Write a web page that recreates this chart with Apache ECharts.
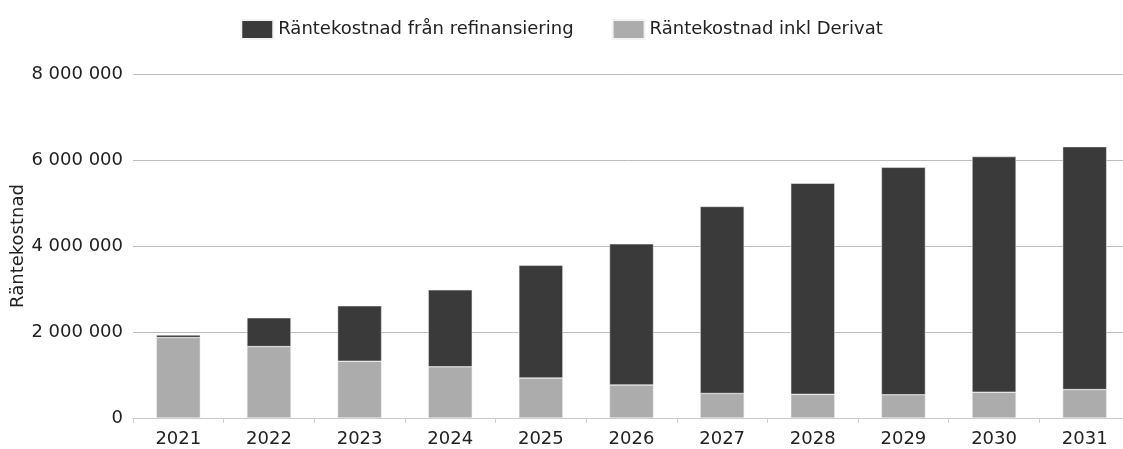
<!DOCTYPE html>
<html>
<head>
<meta charset="utf-8">
<script src="https://cdn.jsdelivr.net/npm/echarts@6/dist/echarts.min.js"></script>
<style>
  html, body { margin: 0; padding: 0; background: #fff; }
  #chart { width: 1123px; height: 449px; }
</style>
</head>
<body>
<div id="chart"></div>
<script>
// Data
const years = ["2021", "2022", "2023", "2024", "2025", "2026", "2027", "2028", "2029", "2030", "2031"];
const derivat = [1870000, 1660000, 1320000, 1190000, 930000, 770000, 570000, 550000, 540000, 600000, 660000];
const refinans = [60000, 670000, 1290000, 1790000, 2620000, 3280000, 4350000, 4910000, 5290000, 5480000, 5650000];
const yTicks = [0, 2000000, 4000000, 6000000, 8000000];

const nameRefi = "Räntekostnad från refinansiering";
const nameDeriv = "Räntekostnad inkl Derivat";

const fmt = (v) => String(v).replace(/\B(?=(\d{3})+(?!\d))/g, " ");

const chart = echarts.init(document.getElementById("chart"));
chart.setOption({
  animation: false,
  textStyle: { fontFamily: "DejaVu Sans" },
  legend: {
    data: [nameRefi, nameDeriv],
    icon: "rect",
    top: 14,
    left: "center",
    itemWidth: 32,
    itemHeight: 19,
    itemGap: 38,
    textStyle: { fontSize: 18, color: "#222" }
  },
  grid: { left: 133, top: 74, width: 997, height: 344, outerBoundsMode: "none" },
  xAxis: {
    type: "category",
    data: years,
    axisLine: { lineStyle: { color: "#c8c8c8" } },
    axisTick: { show: true, lineStyle: { color: "#d0d0d0" } },
    axisLabel: { fontSize: 18, color: "#222", margin: 12 }
  },
  yAxis: {
    type: "value",
    min: yTicks[0],
    max: yTicks[yTicks.length - 1],
    interval: yTicks[1] - yTicks[0],
    name: "Räntekostnad",
    nameLocation: "middle",
    nameGap: 106,
    nameMoveOverlap: false,
    nameTextStyle: { fontSize: 18, color: "#222" },
    axisLabel: { fontSize: 18, color: "#222", margin: 10, formatter: fmt },
    splitLine: { lineStyle: { color: "#bdbdbd", width: 1 } }
  },
  series: [
    {
      name: nameDeriv,
      type: "bar",
      stack: "total",
      data: derivat,
      barWidth: 44,
      itemStyle: { color: "#acacac", borderColor: "#f2f2f2", borderWidth: 0.5 }
    },
    {
      name: nameRefi,
      type: "bar",
      stack: "total",
      data: refinans,
      barWidth: 44,
      itemStyle: { color: "#3a3a3a", borderColor: "#f2f2f2", borderWidth: 0.5 }
    }
  ]
});
</script>
</body>
</html>
